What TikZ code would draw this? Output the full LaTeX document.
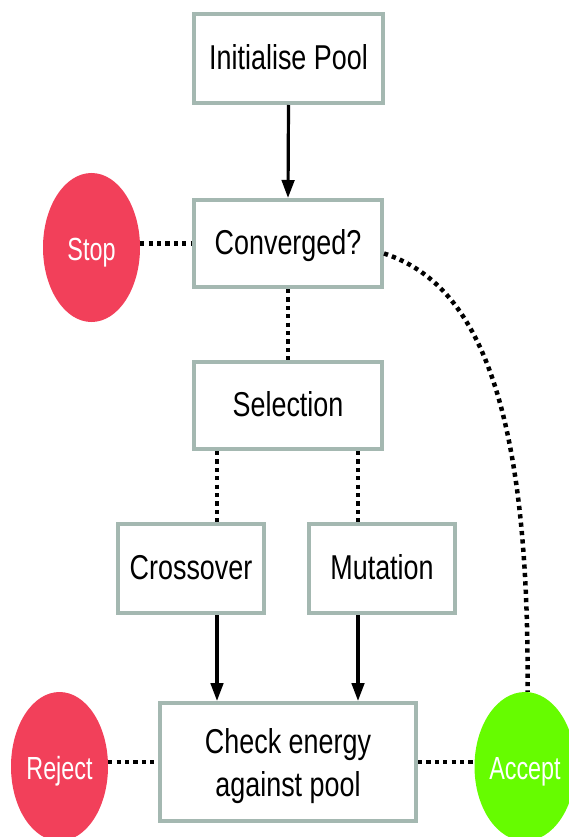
\documentclass[tikz,border=0pt]{standalone}
\usepackage{fontspec}
\setmainfont{Liberation Sans}
\newfontfamily\boxfont[FakeStretch=0.78]{Liberation Sans}
\newfontfamily\circfont[FakeStretch=0.73]{Liberation Sans}
\usetikzlibrary{shapes.geometric,arrows.meta,calc}
\definecolor{frame}{RGB}{164,184,177}
\definecolor{stopred}{RGB}{242,64,90}
\definecolor{okgreen}{RGB}{102,252,0}
\tikzset{
  stepbox/.style={draw=frame, line width=4pt, fill=white, inner sep=0pt,
    font=\boxfont\fontsize{34.5}{43}\selectfont, text height=24.8pt, text depth=2.8pt},
  endpoint/.style={ellipse, inner sep=0pt, minimum width=97pt, minimum height=149pt,
    text=white, font=\circfont\fontsize{32}{38}\selectfont, text height=26pt, text depth=0pt},
  flow/.style={line width=3.2pt, -{Triangle[length=18pt,width=12.5pt]}},
  dotline/.style={line width=4.5pt, dash pattern=on 4.2pt off 4.2pt}
}
\begin{document}
\begin{tikzpicture}[x=1pt,y=-1pt]
\useasboundingbox (0,0) rectangle (568,837);

% process boxes
\node[stepbox, minimum width=189pt, minimum height=89pt] (init) at (288.5,58.5) {Initialise Pool};
\node[stepbox, minimum width=188pt, minimum height=87pt] (conv) at (288,243.5) {Converged?};
\node[stepbox, minimum width=188pt, minimum height=87pt] (sel) at (288,405.5) {Selection};
\node[stepbox, minimum width=146pt, minimum height=89pt] (cross) at (191,568.5) {Crossover};
\node[stepbox, minimum width=146pt, minimum height=89pt] (mut) at (382,568.5) {Mutation};
\node[stepbox, minimum width=256pt, minimum height=118pt] (check) at (288,762) {};
\node[font=\boxfont\fontsize{34.5}{43}\selectfont, align=center, inner sep=0pt] (checktext) at (288,766) {Check energy\\against pool};

% terminal states
\node[endpoint, fill=stopred] (stop) at (91.5,247.5) {Stop};
\node[endpoint, fill=stopred] (reject) at (59.5,766.5) {Reject};
\node[endpoint, fill=okgreen] (accept) at (525,766.5) {Accept};

% branch columns
\coordinate (xa) at (217,0);
\coordinate (xb) at (358,0);

% solid flow
\draw[flow] (init.south) -- (conv.north);
\draw[flow] (cross.south -| xa) -- (check.north -| xa);
\draw[flow] (mut.south -| xb) -- (check.north -| xb);

% dotted links
\draw[dotline] (stop.east |- conv.west) -- (conv.west);
\draw[dotline] (conv.south) -- (sel.north);
\draw[dotline] (sel.south -| xa) -- (cross.north -| xa);
\draw[dotline] (sel.south -| xb) -- (mut.north -| xb);
\draw[dotline] (reject.east |- check.west) -- (check.west);
\draw[dotline] (check.east) -- (accept.west |- check.east);
\draw[dotline] ([yshift=-10pt]conv.east) .. controls +(83,27) and +(2.5,-312) .. ([xshift=2.5pt]accept.north);
\end{tikzpicture}
\end{document}
